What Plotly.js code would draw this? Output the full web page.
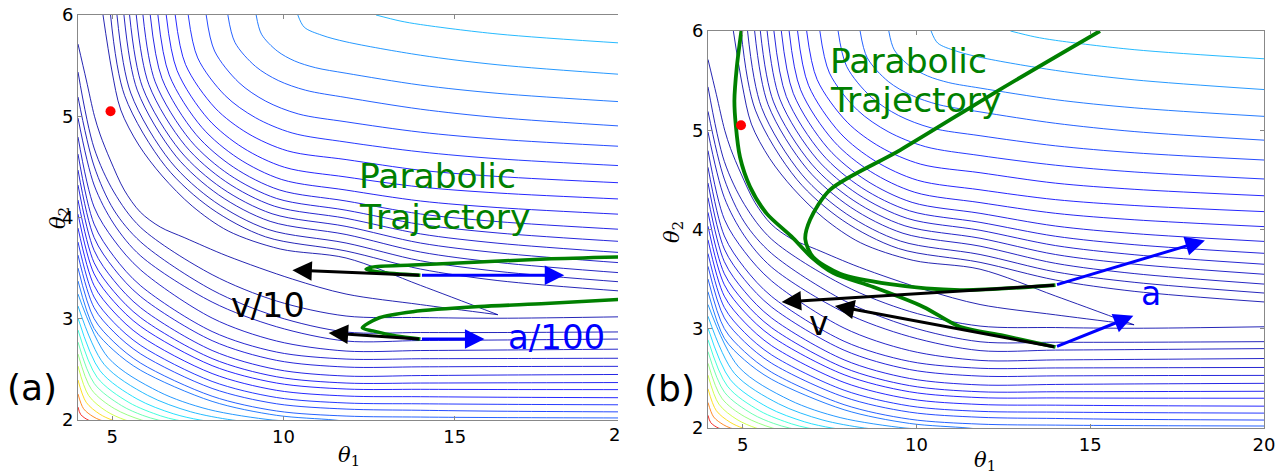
<!DOCTYPE html>
<html><head><meta charset="utf-8">
<script src="https://cdn.plot.ly/plotly-3.0.1.min.js"></script>
<style>html,body{margin:0;padding:0;background:#fff}#chart{width:1282px;height:474px}</style>
</head><body><div id="chart"></div>
<script>
// ===== contour lines of the cost surface (theta1, theta2) =====
// innermost contour (level 1): upper and lower branch meeting at the tip
const c01U_t1 = [4.73, 4.986, 5.249, 5.774, 6.460, 7.335, 8.386, 9.903, 11.829, 14.0, 16.261];
const c01U_t2 = [6.0, 5.457, 5.062, 4.716, 4.410, 4.113, 3.867, 3.689, 3.600, 3.330, 3.040];
const c01D_t1 = [16.261, 14.0, 11.829, 10.259, 8.357, 7.122, 6.402, 5.818, 5.351, 4.943, 4.651, 4.481, 4.242, 4.0];
const c01D_t2 = [3.040, 3.140, 3.244, 3.392, 3.620, 3.799, 3.906, 4.054, 4.271, 4.568, 4.815, 5.000, 5.358, 5.713];
// contours above the valley (top edge -> right edge)
const top02_t1 = [4.951, 5.363, 6.562, 7.881, 9.477, 11.829, 14.0, 16.264, 20];
const top02_t2 = [6.0, 5.203, 4.502, 4.091, 3.809, 3.669, 3.491, 3.377, 3.270];
const top03_t1 = [5.138, 5.541, 6.705, 7.989, 9.541, 11.829, 14.0, 16.264, 20];
const top03_t2 = [6.0, 5.229, 4.552, 4.156, 3.883, 3.748, 3.573, 3.468, 3.360];
const top04_t1 = [5.342, 5.730, 6.860, 8.106, 9.611, 11.829, 14.0, 16.264, 20];
const top04_t2 = [6.0, 5.258, 4.606, 4.224, 3.962, 3.832, 3.659, 3.556, 3.450];
const top05_t1 = [5.506, 5.885, 6.985, 8.199, 9.667, 11.829, 14.0, 16.264, 20];
const top05_t2 = [6.0, 5.286, 4.658, 4.290, 4.037, 3.912, 3.748, 3.651, 3.549];
const top06_t1 = [5.701, 6.069, 7.134, 8.313, 9.734, 11.829, 14.0, 16.264, 20];
const top06_t2 = [6.0, 5.313, 4.709, 4.355, 4.112, 3.992, 3.838, 3.746, 3.650];
const top07_t1 = [5.897, 6.253, 7.286, 8.424, 9.801, 11.829, 14.0, 16.264, 20];
const top07_t2 = [6.0, 5.340, 4.760, 4.421, 4.188, 4.072, 3.932, 3.847, 3.760];
const top08_t1 = [6.110, 6.454, 7.449, 8.546, 9.874, 11.829, 14.0, 16.264, 20];
const top08_t2 = [6.0, 5.372, 4.819, 4.496, 4.273, 4.163, 4.035, 3.959, 3.880];
const top09_t1 = [6.334, 6.664, 7.621, 8.675, 9.950, 11.829, 14.0, 16.264, 20];
const top09_t2 = [6.0, 5.408, 4.889, 4.585, 4.375, 4.271, 4.163, 4.098, 4.029];
const top10_t1 = [6.577, 6.892, 7.805, 8.815, 10.032, 11.829, 14.0, 16.264, 20];
const top10_t2 = [6.0, 5.453, 4.971, 4.689, 4.496, 4.400, 4.301, 4.242, 4.180];
const top11_t1 = [6.839, 7.140, 8.006, 8.963, 10.122, 11.829, 14.0, 16.264, 20];
const top11_t2 = [6.0, 5.511, 5.081, 4.830, 4.658, 4.572, 4.467, 4.405, 4.340];
const top12_t1 = [7.219, 7.496, 8.298, 9.182, 10.253, 11.829, 14.0, 16.264, 20];
const top12_t2 = [6.0, 5.576, 5.204, 4.986, 4.835, 4.745, 4.648, 4.580, 4.509];
const top13_t1 = [7.744, 7.989, 8.701, 9.483, 10.431, 11.829, 14.0, 16.264, 20];
const top13_t2 = [6.0, 5.644, 5.332, 5.149, 5.023, 4.945, 4.843, 4.773, 4.700];
const top14_t1 = [8.377, 8.584, 9.185, 9.848, 10.647, 11.829, 14.0, 16.264, 20];
const top14_t2 = [6.0, 5.729, 5.492, 5.353, 5.257, 5.185, 5.070, 4.987, 4.900];
const top15_t1 = [9.203, 9.360, 9.819, 10.320, 10.930, 11.829, 14.0, 16.264, 20];
const top15_t2 = [6.0, 5.810, 5.644, 5.547, 5.480, 5.425, 5.308, 5.226, 5.140];
const top16_t1 = [10.420, 10.609, 11.123, 11.829, 14.0, 16.264, 20];
const top16_t2 = [6.0, 5.879, 5.800, 5.735, 5.603, 5.508, 5.410];
const top17_t1 = [12.704, 13.405, 14.0, 16.264, 20];
const top17_t2 = [6.0, 5.941, 5.906, 5.812, 5.720];
// contours below the valley (left edge -> right edge)
const low_t1 = [4.0, 4.470, 5.048, 5.833, 7.916, 9.801, 11.829, 14.0, 16.264, 20];
const low02_t2 = [5.437, 4.686, 4.252, 3.901, 3.436, 3.175, 3.027, 3.012, 3.005, 3.020];
const low03_t2 = [5.190, 4.508, 4.074, 3.758, 3.284, 3.022, 2.869, 2.864, 2.864, 2.870];
const low04_t2 = [4.983, 4.321, 3.936, 3.620, 3.165, 2.921, 2.780, 2.785, 2.790, 2.800];
const low05_t2 = [4.795, 4.104, 3.778, 3.481, 3.007, 2.780, 2.681, 2.686, 2.691, 2.700];
const low06_t2 = [4.627, 3.935, 3.615, 3.325, 2.874, 2.671, 2.602, 2.605, 2.607, 2.610];
const low07_t2 = [4.469, 3.803, 3.496, 3.218, 2.784, 2.589, 2.523, 2.525, 2.528, 2.530];
const low08_t2 = [4.321, 3.676, 3.378, 3.108, 2.687, 2.499, 2.434, 2.439, 2.444, 2.450];
const low09_t2 = [4.173, 3.554, 3.269, 3.010, 2.607, 2.427, 2.365, 2.365, 2.367, 2.370];
const low10_t2 = [4.034, 3.443, 3.170, 2.923, 2.537, 2.365, 2.306, 2.303, 2.301, 2.300];
const low11_t2 = [3.896, 3.328, 3.067, 2.829, 2.459, 2.293, 2.237, 2.230, 2.225, 2.220];
const low12_t2 = [3.758, 3.214, 2.963, 2.736, 2.381, 2.222, 2.168, 2.160, 2.155, 2.150];
const low13_t2 = [3.629, 3.109, 2.869, 2.652, 2.312, 2.160, 2.108, 2.096, 2.087, 2.080];
const low14_t2 = [3.501, 3.001, 2.770, 2.561, 2.235, 2.089, 2.039, 2.029, 2.024, 2.020];
// contours below the valley (left edge -> bottom edge)
const low15_t1 = [4.0, 4.470, 5.048, 5.833, 7.916, 9.801, 11.479, 12.238];
const low15_t2 = [3.373, 2.904, 2.686, 2.490, 2.184, 2.046, 2.0, 1.970];
const low16_t1 = [4.0, 4.881, 6.352, 7.802, 9.670, 10.355];
const low16_t2 = [3.244, 2.616, 2.281, 2.105, 2.0, 1.988];
const low17_t1 = [4.0, 4.762, 6.031, 7.283, 8.502, 9.287];
const low17_t2 = [3.126, 2.550, 2.244, 2.082, 2.0, 1.977];
const low18_t1 = [4.0, 4.645, 5.722, 6.781, 7.569, 8.397];
const low18_t2 = [3.007, 2.486, 2.208, 2.062, 2.0, 1.968];
const low19_t1 = [4.0, 4.557, 5.488, 6.404, 6.880, 7.805];
const low19_t2 = [2.889, 2.422, 2.173, 2.042, 2.0, 1.958];
const low20_t1 = [4.0, 4.476, 5.272, 5.888, 6.343, 7.064];
const low20_t2 = [2.770, 2.360, 2.142, 2.046, 2.0, 1.958];
const low21_t1 = [4.0, 4.397, 5.059, 5.853, 6.451];
const low21_t2 = [2.652, 2.300, 2.113, 2.0, 1.959];
const low22_t1 = [4.0, 4.312, 4.832, 5.380, 5.923];
const low22_t2 = [2.533, 2.241, 2.086, 2.0, 1.958];
const low23_t1 = [4.0, 4.239, 4.636, 4.998, 5.468];
const low23_t2 = [2.395, 2.175, 2.058, 2.0, 1.962];
const low24_t1 = [4.0, 4.163, 4.438, 4.648, 5.010];
const low24_t2 = [2.257, 2.111, 2.034, 2.0, 1.970];
const low25_t1 = [4.0, 4.079, 4.298, 4.493];
const low25_t2 = [2.128, 2.054, 2.0, 1.982];

// ---- best-fit point ----
const bestTheta1 = [4.95];
const bestTheta2 = [5.05];

// ---- panel (a) trajectories ----
const trajA1_t1 = [14.0, 12.82, 12.41, 12.59, 13.78, 15.72, 17.66, 19.8];
const trajA1_t2 = [3.43, 3.46, 3.49, 3.51, 3.53, 3.56, 3.59, 3.61];
const trajA2_t1 = [14.0, 13.29, 12.61, 12.30, 12.80, 13.78, 15.72, 17.66, 19.8];
const trajA2_t2 = [2.80, 2.83, 2.88, 2.91, 3.01, 3.07, 3.12, 3.15, 3.19];
// ---- panel (b) trajectories ----
const trajB1_t1 = [14.0, 11.25, 9.24, 7.80, 7.03, 6.80, 6.94, 7.51, 9.53, 12.40, 15.28];
const trajB1_t2 = [3.44, 3.39, 3.45, 3.555, 3.72, 3.90, 4.10, 4.40, 4.80, 5.41, 6.0];
const trajB2_t1 = [14.0, 12.5, 11.25, 10.2, 8.76, 7.61, 6.98, 6.40, 5.69, 5.21, 4.92, 4.80, 4.76, 4.83, 4.96];
const trajB2_t2 = [2.816, 2.93, 3.02, 3.22, 3.42, 3.56, 3.72, 3.93, 4.16, 4.43, 4.73, 5.05, 5.30, 5.64, 6.0];

// ---- arrows (start, velocity tip, acceleration tip) ----
const arrowStartA_t1 = [14.0, 14.0], arrowStartA_t2 = [3.43, 2.80];
const velTipA_t1 = [10.26, 11.32], velTipA_t2 = [3.48, 2.86];
const accTipA_t1 = [18.2, 15.87], accTipA_t2 = [3.43, 2.80];
const arrowStartB_t1 = [14.0, 14.0], arrowStartB_t2 = [3.44, 2.816];
const velTipB_t1 = [6.12, 7.65], velTipB_t2 = [3.27, 3.23];
const accTipB_t1 = [18.30, 16.24], accTipB_t2 = [3.89, 3.13];

// ---- tick labels ----
const xTicksA = [5, 10, 15];
const xTicksB = [5, 10, 15, 20];
const yTicks = [2, 3, 4, 5, 6];

// ---------- styling ----------
const W = 1282, H = 474;
function jet(v){
  v = Math.max(0, Math.min(1, v));
  function seg(pts){
    for (let i=0;i<pts.length-1;i++){
      const [x0,y0]=pts[i],[x1,y1]=pts[i+1];
      if (v>=x0 && v<=x1) return y0+(y1-y0)*(v-x0)/(x1-x0);
    }
    return pts[pts.length-1][1];
  }
  const r=seg([[0,0],[0.35,0],[0.66,1],[0.89,1],[1,0.5]]);
  const g=seg([[0,0],[0.125,0],[0.375,1],[0.64,1],[0.91,0],[1,0]]);
  const b=seg([[0,0.5],[0.11,1],[0.34,1],[0.65,0],[1,0]]);
  return `rgb(${Math.round(r*255)},${Math.round(g*255)},${Math.round(b*255)})`;
}
function levelColor(k){ return jet(0.9*Math.pow(0.87, 25-k)); }

const contourSet = [
  [1, c01U_t1, c01U_t2], [1, c01D_t1, c01D_t2],
  [2, top02_t1, top02_t2], [3, top03_t1, top03_t2], [4, top04_t1, top04_t2], [5, top05_t1, top05_t2],
  [6, top06_t1, top06_t2], [7, top07_t1, top07_t2], [8, top08_t1, top08_t2], [9, top09_t1, top09_t2],
  [10, top10_t1, top10_t2], [11, top11_t1, top11_t2], [12, top12_t1, top12_t2], [13, top13_t1, top13_t2],
  [14, top14_t1, top14_t2], [15, top15_t1, top15_t2], [16, top16_t1, top16_t2], [17, top17_t1, top17_t2],
  [2, low_t1, low02_t2], [3, low_t1, low03_t2], [4, low_t1, low04_t2], [5, low_t1, low05_t2],
  [6, low_t1, low06_t2], [7, low_t1, low07_t2], [8, low_t1, low08_t2], [9, low_t1, low09_t2],
  [10, low_t1, low10_t2], [11, low_t1, low11_t2], [12, low_t1, low12_t2], [13, low_t1, low13_t2],
  [14, low_t1, low14_t2], [15, low15_t1, low15_t2], [16, low16_t1, low16_t2], [17, low17_t1, low17_t2],
  [18, low18_t1, low18_t2], [19, low19_t1, low19_t2], [20, low20_t1, low20_t2], [21, low21_t1, low21_t2],
  [22, low22_t1, low22_t2], [23, low23_t1, low23_t2], [24, low24_t1, low24_t2], [25, low25_t1, low25_t2]
];

const traces = [];
['x','x2'].forEach((xa, i) => {
  const ya = i === 0 ? 'y' : 'y2';
  contourSet.forEach(([k, t1, t2]) => {
    traces.push({type:'scatter', mode:'lines', x:t1, y:t2, xaxis:xa, yaxis:ya,
      line:{color:levelColor(k), width:1.0, shape:'spline', smoothing:0.9}, opacity:0.85,
      hoverinfo:'skip', showlegend:false});
  });
});
function greenTrace(x, y, xa, ya, w){
  return {type:'scatter', mode:'lines', x:x, y:y, xaxis:xa, yaxis:ya,
    line:{color:'#008000', width:w, shape:'spline', smoothing:0.8}, hoverinfo:'skip', showlegend:false};
}
traces.push(greenTrace(trajA1_t1, trajA1_t2, 'x','y', 3.5), greenTrace(trajA2_t1, trajA2_t2, 'x','y', 3.5),
  greenTrace(trajB1_t1, trajB1_t2, 'x2','y2', 3.8), greenTrace(trajB2_t1, trajB2_t2, 'x2','y2', 3.8));
traces.push({type:'scatter', mode:'markers', x:bestTheta1, y:bestTheta2, xaxis:'x', yaxis:'y',
   marker:{color:'#ff0000', size:10}, hoverinfo:'skip', showlegend:false});
traces.push({type:'scatter', mode:'markers', x:bestTheta1, y:bestTheta2, xaxis:'x2', yaxis:'y2',
   marker:{color:'#ff0000', size:10}, hoverinfo:'skip', showlegend:false});

const annotations = [];
function arrow(xa, ya, sx, sy, tx, ty, color){
  annotations.push({xref:xa, yref:ya, axref:xa, ayref:ya, x:tx, y:ty, ax:sx, ay:sy, text:'',
    showarrow:true, arrowhead:2, arrowsize:1.3, arrowwidth:3, arrowcolor:color, standoff:0, startstandoff:0});
}
for (let i=0;i<2;i++){
  arrow('x','y', arrowStartA_t1[i], arrowStartA_t2[i], velTipA_t1[i], velTipA_t2[i], '#000000');
  arrow('x','y', arrowStartA_t1[i], arrowStartA_t2[i], accTipA_t1[i], accTipA_t2[i], '#0000ff');
  arrow('x2','y2', arrowStartB_t1[i], arrowStartB_t2[i], velTipB_t1[i], velTipB_t2[i], '#000000');
  arrow('x2','y2', arrowStartB_t1[i], arrowStartB_t2[i], accTipB_t1[i], accTipB_t2[i], '#0000ff');
}
function txt(text, px, py, size, color, xanchor, family){
  annotations.push({xref:'paper', yref:'paper', x:px/W, y:1-py/H, text:text, showarrow:false,
    xanchor:xanchor||'center', yanchor:'middle', font:{family:family||'DejaVu Sans', size:size, color:color}});
}
txt('Parabolic', 357, 176, 34.5, '#008000', 'left');
txt('Trajectory', 357, 217, 34.5, '#008000', 'left');
txt('Parabolic', 828, 61, 34.5, '#008000', 'left');
txt('Trajectory', 828, 100, 34.5, '#008000', 'left');
txt('v/10', 268, 305, 33.5, '#000000');
txt('a/100', 556, 337, 34, '#0000ff');
txt('v', 819, 323, 33, '#000000');
txt('a', 1151, 293, 33, '#0000ff');
txt('(a)', 32, 387, 36, '#000000');
txt('(b)', 669, 388, 36, '#000000');
txt('2', 614, 434, 18, '#000000');
txt('<i>θ</i><sub>1</sub>', 349, 456, 21, '#000000', 'center', 'DejaVu Serif');
txt('<i>θ</i><sub>1</sub>', 985, 461, 21, '#000000', 'center', 'DejaVu Serif');
annotations.push({xref:'paper', yref:'paper', x:44/W, y:1-218/H, text:'<i>θ</i><sub>2</sub>', showarrow:false,
  textangle:-90, font:{family:'DejaVu Serif', size:21, color:'#000'}});
annotations.push({xref:'paper', yref:'paper', x:673/W, y:1-232/H, text:'<i>θ</i><sub>2</sub>', showarrow:false,
  textangle:-90, font:{family:'DejaVu Serif', size:21, color:'#000'}});

const axisCommon = {ticks:'inside', ticklen:4, tickcolor:'#888', showline:true, linecolor:'#888', linewidth:1,
  showgrid:false, zeroline:false, tickfont:{family:'DejaVu Sans', size:18, color:'#000'}, fixedrange:true};
const layout = {
  width:W, height:H, margin:{l:0,r:0,t:0,b:0}, paper_bgcolor:'#fff', plot_bgcolor:'#fff', showlegend:false,
  xaxis: Object.assign({}, axisCommon, {domain:[78/W, 618/W], range:[4, 19.77], tickvals:xTicksA, mirror:'allticks', anchor:'y'}),
  yaxis: Object.assign({}, axisCommon, {domain:[1-420/H, 1-15/H], range:[2, 6], tickvals:yTicks, mirror:false, anchor:'x'}),
  xaxis2: Object.assign({}, axisCommon, {domain:[708/W, 1264/W], range:[4, 20], tickvals:xTicksB, mirror:'allticks', anchor:'y2'}),
  yaxis2: Object.assign({}, axisCommon, {domain:[1-428/H, 1-31/H], range:[2, 6], tickvals:yTicks, mirror:'allticks', anchor:'x2'}),
  annotations: annotations
};
Plotly.newPlot('chart', traces, layout, {displayModeBar:false, staticPlot:true});
</script></body></html>
